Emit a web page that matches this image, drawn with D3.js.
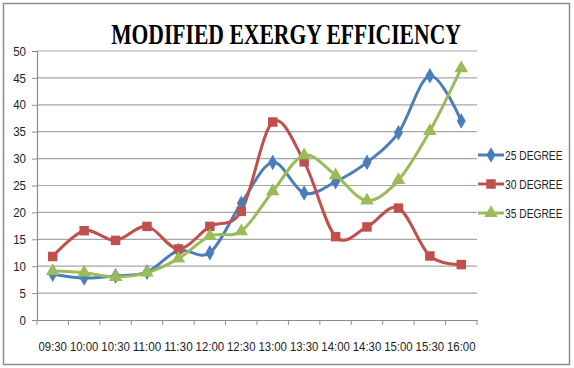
<!DOCTYPE html>
<html><head><meta charset="utf-8">
<script src="https://cdn.jsdelivr.net/npm/d3@7"></script>
<style>html,body{margin:0;padding:0;background:#fff;}svg{display:block;}</style>
</head><body>
<svg id="c" width="574" height="368"></svg>
<script>
const categories = ["09:30","10:00","10:30","11:00","11:30","12:00","12:30","13:00","13:30","14:00","14:30","15:00","15:30","16:00"];
const deg25 = [8.5, 7.8, 8.2, 8.9, 12.9, 12.5, 21.7, 29.3, 23.6, 25.7, 29.3, 34.8, 45.4, 37.0];
const deg30 = [11.8, 16.6, 14.8, 17.4, 13.2, 17.4, 20.2, 36.8, 29.4, 15.5, 17.3, 20.8, 11.9, 10.3];
const deg35 = [9.1, 8.8, 8.0, 8.8, 11.4, 15.6, 16.5, 23.9, 30.6, 26.9, 22.2, 26.0, 35.1, 46.8];
const yTicks = [0,5,10,15,20,25,30,35,40,45,50];
const seriesNames = ["25 DEGREE","30 DEGREE","35 DEGREE"];
const colors = ["#4A7EBB","#C0504D","#9BBB59"];
const seriesData = [deg25, deg30, deg35];
const markers = [d3.symbolDiamond, d3.symbolSquare, d3.symbolTriangle];
const markerSizes = [70, 90, 80];

const svg = d3.select("#c");
const font = "'Liberation Sans',Arial,sans-serif";

svg.append("rect").attr("x",3.5).attr("y",3.5).attr("width",566).attr("height",361)
  .attr("fill","#fff").attr("stroke","#8c8c8c").attr("stroke-width",1.5);

const L=37, R=477, T=51, B=320;
const x = d3.scaleBand().domain(categories).range([L,R]);
const y = d3.scaleLinear().domain([0,50]).range([B,T]);

// gridlines
svg.append("g").selectAll("line").data(yTicks.filter(d=>d>0)).join("line")
  .attr("x1",L).attr("x2",R).attr("y1",d=>y(d)).attr("y2",d=>y(d))
  .attr("stroke","#a6a6a6").attr("stroke-width",1.2);

// y axis
const ya = svg.append("g").attr("transform",`translate(${L},0)`)
  .call(d3.axisLeft(y).tickValues(yTicks).tickSize(5).tickPadding(6));
ya.select(".domain").attr("stroke","#8c8c8c").attr("stroke-width",1.2);
ya.selectAll(".tick line").attr("stroke","#8c8c8c");
ya.selectAll("text").attr("font-family",font).attr("font-size",13).attr("fill","#222")
  .attr("textLength",function(){return this.textContent.length*6.4;}).attr("lengthAdjust","spacingAndGlyphs");

// x axis
const xa = svg.append("g").attr("transform",`translate(0,${B})`)
  .call(d3.axisBottom(x).tickSize(0).tickPadding(22));
xa.select(".domain").attr("stroke","#8c8c8c").attr("stroke-width",1.2);
xa.selectAll("text").attr("font-family",font).attr("font-size",13).attr("fill","#222")
  .attr("textLength",28.5).attr("lengthAdjust","spacingAndGlyphs");
xa.append("g").selectAll("line").data(categories.map(c=>x(c)).concat([R])).join("line")
  .attr("x1",d=>d).attr("x2",d=>d).attr("y1",0).attr("y2",5).attr("stroke","#8c8c8c");

// series
const line = d3.line().x((d,i)=>x(categories[i])+x.bandwidth()/2).y(d=>y(d))
  .curve(d3.curveCardinal.tension(0));
seriesData.forEach((s,k)=>{
  svg.append("path").datum(s).attr("d",line).attr("fill","none")
    .attr("stroke",colors[k]).attr("stroke-width",3);
});
seriesData.forEach((s,k)=>{
  svg.append("g").selectAll("path").data(s).join("path")
    .attr("d",d3.symbol().type(markers[k]).size(markerSizes[k]))
    .attr("transform",(d,i)=>`translate(${x(categories[i])+x.bandwidth()/2},${y(d)})`)
    .attr("fill",colors[k]);
});

// legend
const lg = svg.append("g");
seriesNames.forEach((n,k)=>{
  const yy = 155 + k*29;
  lg.append("line").attr("x1",478).attr("x2",504).attr("y1",yy).attr("y2",yy)
    .attr("stroke",colors[k]).attr("stroke-width",3);
  lg.append("path").attr("d",d3.symbol().type(markers[k]).size(markerSizes[k])())
    .attr("transform",`translate(491,${yy})`).attr("fill",colors[k]);
  lg.append("text").attr("transform",`translate(505,${yy+5}) scale(0.76,1)`).text(n)
    .attr("font-family",font).attr("font-size",13.5).attr("fill","#222");
});

// title (horizontally condensed via transform to ~350px wide)
const title = svg.append("text").attr("text-anchor","middle")
  .attr("font-family","'Liberation Serif','Times New Roman',serif").attr("font-weight","bold")
  .attr("font-size",30).attr("fill","#000")
  .text("MODIFIED EXERGY EFFICIENCY");
const tw = title.node().getComputedTextLength() || 470;
title.attr("transform",`translate(286,44) scale(${350/tw},1)`);
</script>
</body></html>
